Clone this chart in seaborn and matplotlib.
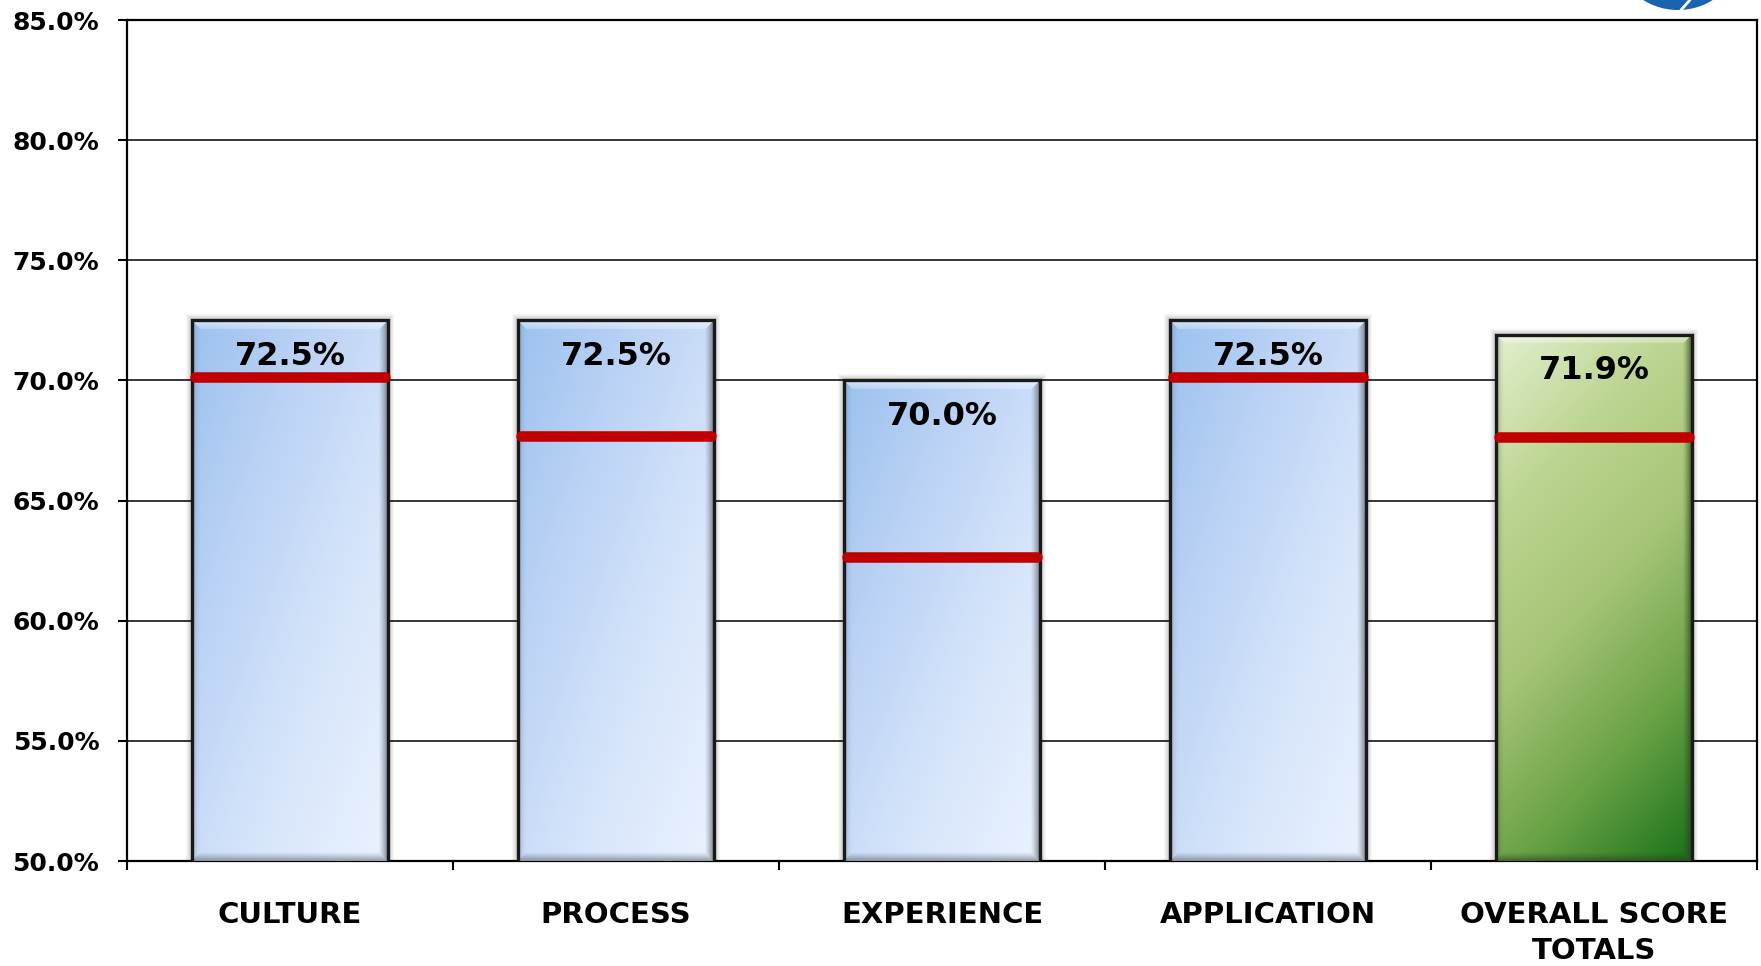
import numpy as np
import pandas as pd
import matplotlib
matplotlib.use("Agg")
import matplotlib.pyplot as plt
import seaborn as sns
from matplotlib.colors import LinearSegmentedColormap, to_rgb
from matplotlib.patches import Rectangle, Ellipse
from matplotlib.lines import Line2D
from matplotlib.ticker import FixedLocator, FuncFormatter

# Scores per dimension and the benchmark each one is compared against
categories = ["CULTURE", "PROCESS", "EXPERIENCE", "APPLICATION", "OVERALL SCORE\nTOTALS"]
scores = [72.5, 72.5, 70.0, 72.5, 71.9]
benchmarks = [70.15, 67.7, 62.65, 70.15, 67.65]
bar_kinds = ["dimension", "dimension", "dimension", "dimension", "total"]
y_ticks = [50, 55, 60, 65, 70, 75, 80, 85]

# Gradient fills for the two kinds of bar
gradients = {
    "dimension": LinearSegmentedColormap.from_list(
        "dim", ["#9cc1ef", "#bdd4f5", "#d8e6fb", "#eaf2fe"]),
    "total": LinearSegmentedColormap.from_list(
        "tot", ["#e2efcf", "#bdd592", "#a6c476", "#6aa246", "#1a721a"]),
}
bevel_dark = {"dimension": "#5c6470", "total": "#2c3e22"}
flat_colors = {"dimension": "#c5d9f6", "total": "#9cbd6e"}

sns.set_theme(style="white")
plt.rcParams["font.family"] = ["DejaVu Sans"]
plt.rcParams["text.color"] = "black"

W_PX, H_PX = 1761, 966
fig = plt.figure(figsize=(W_PX / 100, H_PX / 100), dpi=100)
ax = fig.add_axes([127 / W_PX, 105 / H_PX, 1630 / W_PX, 841 / H_PX])

df = pd.DataFrame({"category": categories, "score": scores, "kind": bar_kinds})
sns.barplot(
    data=df, x="category", y="score", hue="category",
    palette=[flat_colors[k] for k in bar_kinds],
    width=0.6, edgecolor="#1a1a1a", linewidth=2.4, legend=False,
    ax=ax, zorder=3,
)

ax.set_xlim(-0.5, 4.5)
ax.set_ylim(y_ticks[0], y_ticks[-1])

# pixel size of one data unit, used for the bevel and shadow widths
px_per_x = 1630 / 5.0
px_per_y = 841 / (y_ticks[-1] - y_ticks[0])


def bar_image(kind, w_px, h_px):
    w_px, h_px = max(int(w_px), 2), max(int(h_px), 2)
    u = np.linspace(0, 1, w_px)[None, :]
    v = np.linspace(0, 1, h_px)[:, None]
    if kind == "total":
        t = np.clip(0.72 * v + 0.28 * u, 0, 1)
    else:
        t = np.clip(0.5 * v + 0.5 * u, 0, 1)
    img = gradients[kind](t)[..., :3]
    # bevelled frame: light top, dark right and bottom, faint dark left
    xs = np.arange(w_px)[None, :].repeat(h_px, 0)
    ys = np.arange(h_px)[:, None].repeat(w_px, 1)
    dt, db = ys, h_px - 1 - ys
    dl, dr = xs, w_px - 1 - xs
    dmin = np.minimum(np.minimum(dt, db), np.minimum(dl, dr))
    b = 9.0
    inside = dmin < b
    f = np.clip(1 - dmin / b, 0, 1)
    white = np.array([1.0, 1.0, 1.0])
    dark = np.array(to_rgb(bevel_dark[kind]))
    top = inside & (dt == dmin)
    right = inside & (dr == dmin) & ~top
    bottom = inside & (db == dmin) & ~top & ~right
    left = inside & (dl == dmin) & ~top & ~right & ~bottom
    a = np.zeros((h_px, w_px))
    a[top] = 0.55 * (0.4 + 0.6 * f[top])
    img = img * (1 - a[..., None]) + white * a[..., None]
    a = np.zeros((h_px, w_px))
    a[right] = 0.75 * f[right] ** 1.3
    a[bottom] = 0.6 * f[bottom] ** 1.3
    a[left] = 0.35 * f[left] ** 2
    img = img * (1 - a[..., None]) + dark * a[..., None]
    return img


for patch, kind, value, bench in zip(ax.patches, bar_kinds, scores, benchmarks):
    x0, w = patch.get_x(), patch.get_width()
    y_top = patch.get_y() + patch.get_height()
    y_bot = max(patch.get_y(), y_ticks[0])
    # soft shadow around the bar
    for i in range(1, 7):
        dx, dy = i / px_per_x, i / px_per_y
        ax.add_patch(Rectangle((x0 - dx, y_bot), w + 2 * dx, (y_top - y_bot) + dy,
                               facecolor="#000000", edgecolor="none",
                               alpha=0.035, zorder=2.5))
    img = bar_image(kind, w * px_per_x, (y_top - y_bot) * px_per_y)
    im = ax.imshow(img, extent=[x0, x0 + w, y_bot, y_top], aspect="auto",
                   origin="upper", interpolation="bilinear", zorder=3.2)
    im.set_clip_path(patch)
    patch.set_facecolor("none")
    patch.set_zorder(3.5)

    # benchmark marker
    inset = 3 / px_per_x
    ax.plot([x0 + inset, x0 + w - inset], [bench, bench], color="#c00000",
            lw=7.6, solid_capstyle="round", zorder=5)
    # score label just below the top of the bar
    ax.annotate(f"{value:.1f}%", xy=(x0 + w / 2, value), xytext=(0, -26),
                textcoords="offset points", ha="center", va="center",
                fontsize=23, fontweight="bold", color="black", zorder=6)

ax.set_xlim(-0.5, 4.5)
ax.set_ylim(y_ticks[0], y_ticks[-1])

# y axis
ax.yaxis.set_major_locator(FixedLocator(y_ticks))
ax.yaxis.set_major_formatter(FuncFormatter(lambda v, _: f"{v:.1f}%"))
ax.tick_params(axis="y", which="major", left=True, length=6.5, width=1.5,
               direction="out", color="black", labelcolor="black",
               labelsize=18, pad=13.5)
for lab in ax.get_yticklabels():
    lab.set_fontweight("bold")
ax.yaxis.grid(True, color="black", linewidth=1.1)
ax.set_axisbelow(True)

# x axis: ticks between categories, names centred on bars
ax.xaxis.set_major_locator(FixedLocator(np.arange(-0.5, 5.0, 1.0)))
ax.xaxis.set_major_formatter(FuncFormatter(lambda v, _: ""))
ax.set_xticks(range(len(categories)), minor=True)
ax.set_xticklabels(categories, minor=True, fontsize=21, fontweight="bold",
                   linespacing=1.35, color="black")
ax.tick_params(axis="x", which="major", bottom=True, length=6.5, width=1.5,
               direction="out", color="black")
ax.tick_params(axis="x", which="minor", bottom=True, length=0, pad=29,
               labelcolor="black")

ax.set_xlabel("")
ax.set_ylabel("")
for side in ["left", "right", "top", "bottom"]:
    ax.spines[side].set_visible(True)
    ax.spines[side].set_color("black")
    ax.spines[side].set_linewidth(1.6)

# corner emblem, mostly outside the canvas
fig.add_artist(Ellipse((1678 / W_PX, (H_PX + 44) / H_PX), width=120 / W_PX,
                       height=108 / H_PX, transform=fig.transFigure,
                       facecolor="#1862b0", edgecolor="none"))
fig.add_artist(Line2D([1681 / W_PX, 1690 / W_PX], [(H_PX - 10) / H_PX, 1.0],
                      transform=fig.transFigure, color="white", lw=2))

fig.savefig("out.png", dpi=100)
